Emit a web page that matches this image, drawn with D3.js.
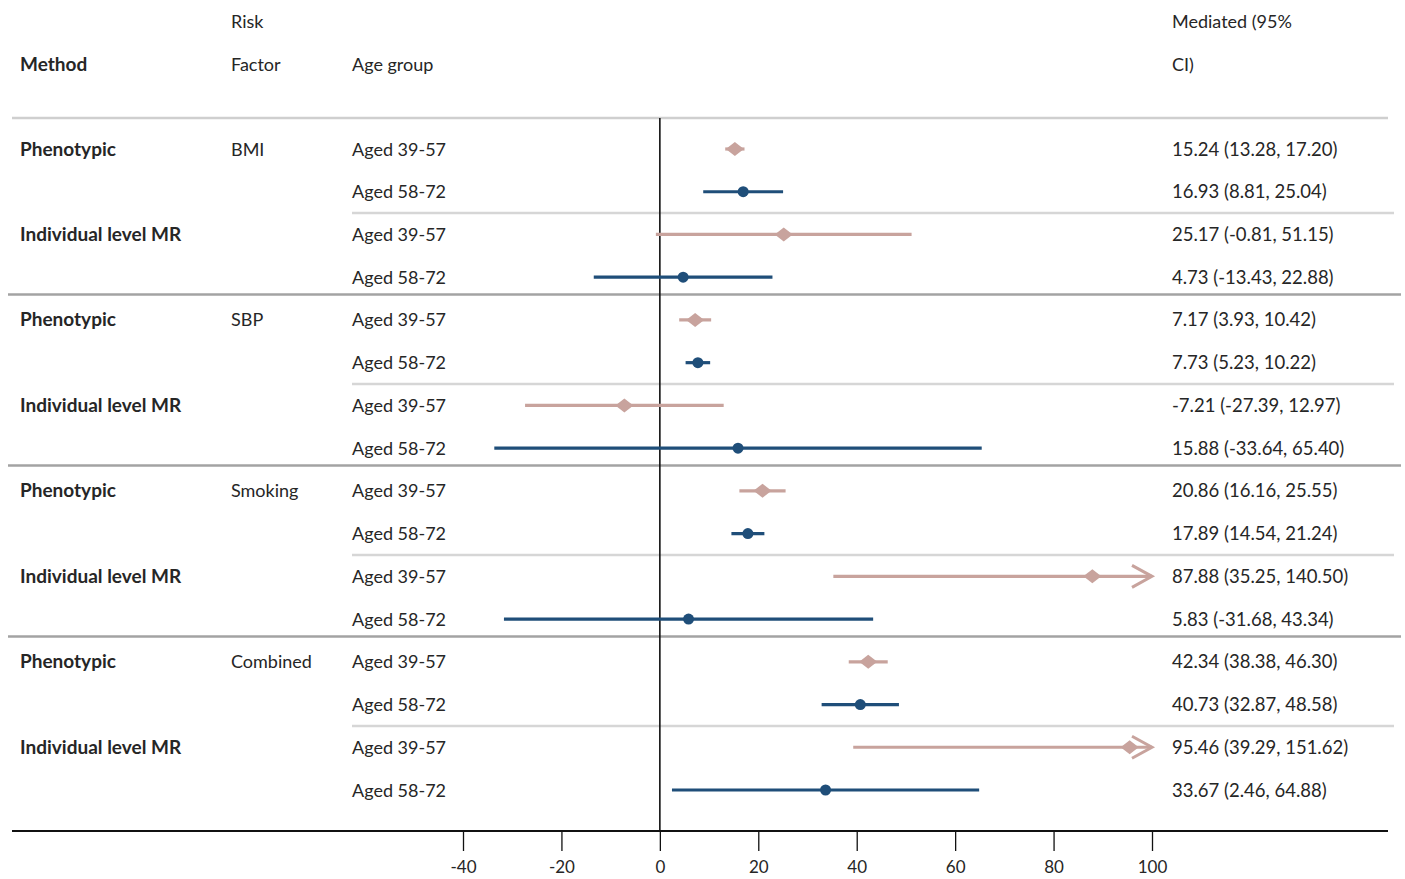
<!DOCTYPE html>
<html>
<head>
<meta charset="utf-8">
<script src="https://cdn.jsdelivr.net/npm/d3@7"></script>
<style>
  body { margin: 0; background: #fff; }
  text { font-family: Lato, "Open Sans", sans-serif; fill: #262626; }
</style>
</head>
<body>
<script>
// data
const riskFactors = ['BMI', 'SBP', 'Smoking', 'Combined'];
const methods = ['Phenotypic', 'Individual level MR'];
const ageGroups = ['Aged 39-57', 'Aged 58-72'];
const estimate = [15.24, 16.93, 25.17, 4.73, 7.17, 7.73, -7.21, 15.88, 20.86, 17.89, 87.88, 5.83, 42.34, 40.73, 95.46, 33.67];
const lower = [13.28, 8.81, -0.81, -13.43, 3.93, 5.23, -27.39, -33.64, 16.16, 14.54, 35.25, -31.68, 38.38, 32.87, 39.29, 2.46];
const upper = [17.20, 25.04, 51.15, 22.88, 10.42, 10.22, 12.97, 65.40, 25.55, 21.24, 140.50, 43.34, 46.30, 48.58, 151.62, 64.88];
const xTicks = [-40, -20, 0, 20, 40, 60, 80, 100];

const W = 1405, H = 879;
const colours = { 'Aged 39-57': '#c8a39d', 'Aged 58-72': '#1f4e79' };

const rows = estimate.map((d, i) => ({
  i: i,
  group: riskFactors[Math.floor(i / 4)],
  method: methods[Math.floor(i / 2) % 2],
  age: ageGroups[i % 2],
  est: d, lo: lower[i], hi: upper[i]
}));

const svg = d3.select('body').append('svg').attr('width', W).attr('height', H);

const x = d3.scaleLinear().domain([-40, 100]).range([463, 1152]);
const y = d3.scaleLinear().domain([0, rows.length - 1]).range([149, 790]);

// header
const header = svg.append('g').attr('font-size', 18);
header.append('text').attr('x', 20).attr('y', 71).attr('font-weight', 'bold').attr('font-size', 19).text('Method');
header.append('text').attr('x', 231).attr('y', 28).text('Risk');
header.append('text').attr('x', 231).attr('y', 71).text('Factor');
header.append('text').attr('x', 352).attr('y', 71).text('Age group');
header.append('text').attr('x', 1172).attr('y', 28).text('Mediated (95%');
header.append('text').attr('x', 1172).attr('y', 71).text('CI)');

// separators
svg.append('line').attr('x1', 12).attr('x2', 1388).attr('y1', 118).attr('y2', 118)
  .attr('stroke', '#cfcfcf').attr('stroke-width', 2.5);

riskFactors.forEach((rf, g) => {
  const yMinor = (y(g * 4 + 1) + y(g * 4 + 2)) / 2;
  svg.append('line').attr('x1', 352).attr('x2', 1394).attr('y1', yMinor).attr('y2', yMinor)
    .attr('stroke', '#d6d6d6').attr('stroke-width', 2.5);
  if (g > 0) {
    const yMajor = (y(g * 4 - 1) + y(g * 4)) / 2 - 4;
    svg.append('line').attr('x1', 8).attr('x2', 1401).attr('y1', yMajor).attr('y2', yMajor)
      .attr('stroke', '#a3a3a3').attr('stroke-width', 2.5);
  }
});

// zero line
svg.append('line').attr('x1', x(0)).attr('x2', x(0)).attr('y1', 118).attr('y2', 831)
  .attr('stroke', '#111').attr('stroke-width', 1.6);

// row labels
const lab = svg.append('g').attr('font-size', 18);
rows.forEach(r => {
  const ty = y(r.i) + 6.5;
  if (r.i % 2 === 0) {
    lab.append('text').attr('x', 20).attr('y', ty).attr('font-weight', 'bold').attr('font-size', 19).text(r.method);
  }
  if (r.i % 4 === 0) {
    lab.append('text').attr('x', 231).attr('y', ty).text(r.group);
  }
  lab.append('text').attr('x', 352).attr('y', ty).text(r.age);
  lab.append('text').attr('x', 1172).attr('y', ty).attr('font-size', 18.5)
    .text(`${r.est.toFixed(2)} (${r.lo.toFixed(2)}, ${r.hi.toFixed(2)})`);
});

// intervals
const xMax = x.domain()[1];
const marks = svg.append('g');
rows.forEach(r => {
  const c = colours[r.age];
  const yy = y(r.i);
  const clipped = r.hi > xMax;
  marks.append('line')
    .attr('x1', x(Math.max(r.lo, x.domain()[0]))).attr('x2', x(Math.min(r.hi, xMax)))
    .attr('y1', yy).attr('y2', yy)
    .attr('stroke', c).attr('stroke-width', 3.2);
  if (clipped) {
    const tip = x(xMax);
    marks.append('path')
      .attr('d', `M${tip - 20},${yy - 11}L${tip},${yy}L${tip - 20},${yy + 11}`)
      .attr('fill', 'none').attr('stroke', c).attr('stroke-width', 3);
  }
  if (r.age === 'Aged 39-57') {
    marks.append('path')
      .attr('d', `M${x(r.est) - 9},${yy}L${x(r.est)},${yy - 7}L${x(r.est) + 9},${yy}L${x(r.est)},${yy + 7}Z`)
      .attr('fill', c);
  } else {
    marks.append('circle').attr('cx', x(r.est)).attr('cy', yy).attr('r', 5.5).attr('fill', c);
  }
});

// axis
svg.append('line').attr('x1', 12).attr('x2', 1388).attr('y1', 831).attr('y2', 831)
  .attr('stroke', '#111').attr('stroke-width', 2);
const axis = svg.append('g').attr('transform', 'translate(0,832)')
  .call(d3.axisBottom(x).tickValues(xTicks).tickSize(19).tickPadding(10).tickFormat(d => String(d)));
axis.select('.domain').remove();
axis.selectAll('line').attr('stroke', '#111').attr('stroke-width', 1.3);
axis.selectAll('text').attr('font-size', 17).attr('font-family', 'Lato, sans-serif').attr('fill', '#262626');
</script>
</body>
</html>
